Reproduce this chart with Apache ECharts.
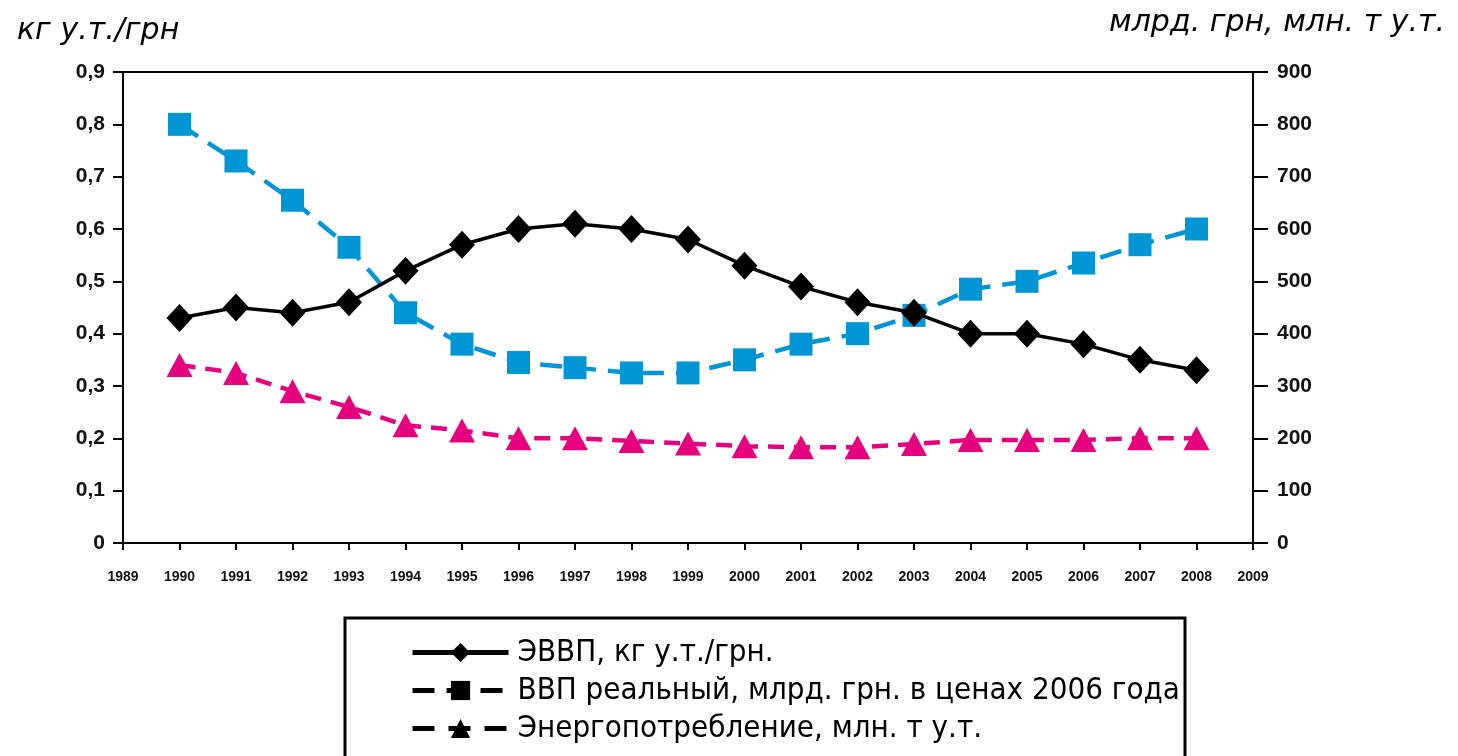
<!DOCTYPE html>
<html>
<head>
<meta charset="utf-8">
<script src="https://cdn.jsdelivr.net/npm/echarts@6/dist/echarts.min.js"></script>
<style>
  html, body { margin: 0; padding: 0; background: #fff; }
  #chart { width: 1458px; height: 756px; }
</style>
</head>
<body>
<div id="chart"></div>
<script>
// годы и значения
var years = [1990, 1991, 1992, 1993, 1994, 1995, 1996, 1997, 1998, 1999,
             2000, 2001, 2002, 2003, 2004, 2005, 2006, 2007, 2008];
// ЭВВП, кг у.т./грн (левая ось)
var evvp = [0.43, 0.45, 0.44, 0.46, 0.52, 0.57, 0.60, 0.61, 0.60, 0.58,
            0.53, 0.49, 0.46, 0.44, 0.40, 0.40, 0.38, 0.35, 0.33];
// ВВП реальный, млрд. грн (правая ось)
var gdp = [800, 730, 655, 565, 440, 380, 345, 335, 325, 325,
           350, 380, 400, 435, 485, 500, 535, 570, 600];
// Энергопотребление, млн. т у.т. (правая ось)
var energy = [340, 325, 290, 260, 225, 215, 200, 200, 195, 190,
              185, 183, 183, 189, 197, 197, 197, 200, 200];
var leftTicks = [0, 0.9, 0.1];
var rightTicks = [0, 900, 100];

var names = [
    'ЭВВП, кг у.т./грн.',
    'ВВП реальный, млрд. грн. в ценах 2006 года',
    'Энергопотребление, млн. т у.т.'
];

function pairs(arr) {
    return years.map(function (y, i) { return [y, arr[i]]; });
}

var myChart = echarts.init(document.getElementById('chart'));

var axisFont = { fontFamily: 'Liberation Sans', fontWeight: 'bold', color: '#111' };
var titleFont = { fontFamily: 'DejaVu Sans', fontStyle: 'italic', fontWeight: 'normal', fontSize: 30, color: '#000' };

var option = {
    backgroundColor: '#fff',
    animation: false,
    title: [
        { text: 'кг у.т./грн', left: 12, top: 11, textStyle: titleFont },
        { text: 'млрд. грн, млн. т у.т.', right: 8, top: 3, textStyle: titleFont }
    ],
    // рамка легенды (нижний край уходит за картинку)
    graphic: [{
        type: 'rect',
        shape: { x: 345, y: 618, width: 840, height: 170 },
        style: { fill: 'none', stroke: '#000', lineWidth: 3 }
    }],
    grid: {
        left: 123, right: 205, top: 72, bottom: 213,
        show: true, borderColor: '#000', borderWidth: 2
    },
    legend: {
        orient: 'vertical',
        left: 410, top: 637,
        height: 140,
        padding: 0,
        itemWidth: 96, itemHeight: 24, itemGap: 7,
        textStyle: { fontFamily: 'Liberation Sans Narrow, DejaVu Sans Condensed, Liberation Sans', fontSize: 31, lineHeight: 31, color: '#000', padding: [0, 0, 0, 4] },
        data: [
            { name: names[0], itemStyle: { color: '#000' }, lineStyle: { color: '#000', width: 5 } },
            { name: names[1], itemStyle: { color: '#000' }, lineStyle: { color: '#000', width: 5, type: [22, 12] } },
            { name: names[2], itemStyle: { color: '#000' }, lineStyle: { color: '#000', width: 5, type: [22, 14] } }
        ]
    },
    xAxis: {
        type: 'value',
        min: 1989, max: 2009, interval: 1,
        axisLine: { lineStyle: { color: '#000', width: 2 } },
        axisTick: { inside: false, length: 7, lineStyle: { color: '#000', width: 2 } },
        splitLine: { show: false },
        axisLabel: Object.assign({ fontSize: 14, margin: 27, formatter: function (v) { return String(v); } }, axisFont)
    },
    yAxis: [
        {
            type: 'value',
            min: leftTicks[0], max: leftTicks[1], interval: leftTicks[2],
            axisLine: { show: true, lineStyle: { color: '#000', width: 2 } },
            axisTick: { show: true, length: 10, lineStyle: { color: '#000', width: 2 } },
            splitLine: { show: false },
            axisLabel: Object.assign({
                fontSize: 21, margin: 18,
                formatter: function (v) { return v === 0 ? '0' : v.toFixed(1).replace('.', ','); }
            }, axisFont)
        },
        {
            type: 'value',
            position: 'right',
            min: rightTicks[0], max: rightTicks[1], interval: rightTicks[2],
            axisLine: { show: true, lineStyle: { color: '#000', width: 2 } },
            axisTick: { show: true, length: 15, lineStyle: { color: '#000', width: 2 } },
            splitLine: { show: false },
            axisLabel: Object.assign({ fontSize: 21, margin: 24 }, axisFont)
        }
    ],
    series: [
        {
            name: names[0],
            type: 'line',
            yAxisIndex: 0,
            data: pairs(evvp),
            symbol: 'diamond',
            symbolSize: [26, 28],
            itemStyle: { color: '#000' },
            lineStyle: { color: '#000', width: 3.5 },
            z: 3
        },
        {
            name: names[1],
            type: 'line',
            yAxisIndex: 1,
            data: pairs(gdp),
            symbol: 'rect',
            symbolSize: 23,
            itemStyle: { color: '#0096d6' },
            lineStyle: { color: '#0096d6', width: 4.5, type: [22, 12] },
            z: 2
        },
        {
            name: names[2],
            type: 'line',
            yAxisIndex: 1,
            data: pairs(energy),
            symbol: 'triangle',
            symbolSize: [26, 24],
            itemStyle: { color: '#e6007e' },
            lineStyle: { color: '#e6007e', width: 4.5, type: [16, 10] },
            z: 2
        }
    ]
};

myChart.setOption(option);
</script>
</body>
</html>
